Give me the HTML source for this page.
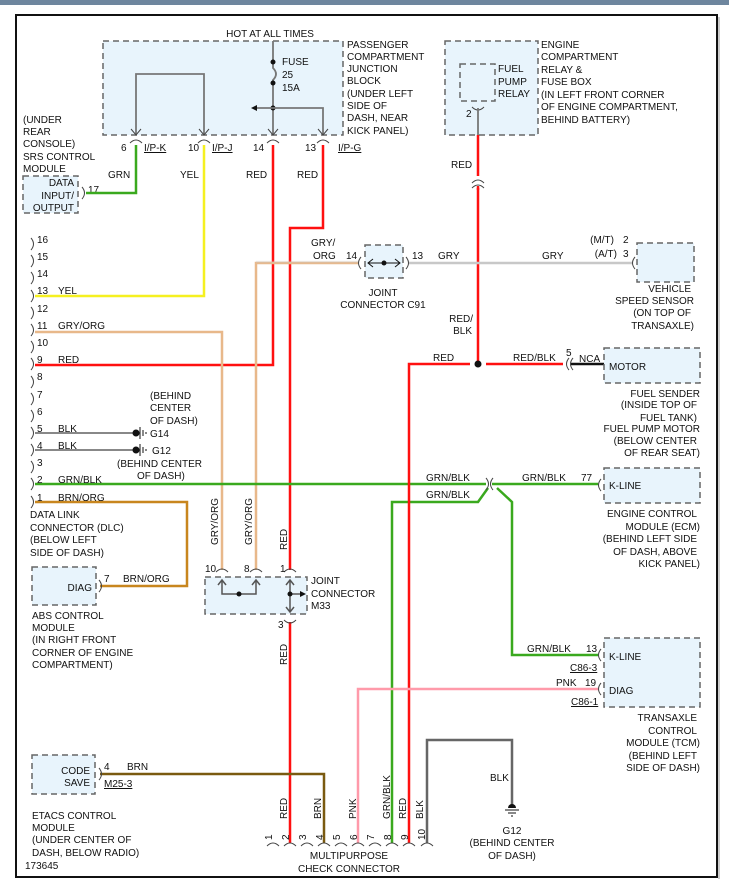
<!DOCTYPE html>
<html><head><meta charset="utf-8"><style>
html,body{margin:0;padding:0;background:#fff;}
svg{display:block;}
text{font-family:"Liberation Sans",Arial,sans-serif;font-size:10px;fill:#111;}
.r{text-anchor:end;}
.m{text-anchor:middle;}
.bx{fill:#e8f4fc;stroke:#666;stroke-width:1.5;stroke-dasharray:6,4;}
.w{fill:none;stroke-width:2.5;}
.g{fill:none;stroke:#777;stroke-width:1.8;}
.c{fill:none;stroke:#444;stroke-width:1;}
</style></head><body>
<svg width="729" height="887" viewBox="0 0 729 887" xmlns="http://www.w3.org/2000/svg">
<rect x="0" y="0" width="729" height="887" fill="#fff"/>
<rect x="0" y="0" width="729" height="5" fill="#6e869e"/>
<rect x="16" y="15" width="701" height="862" fill="#fff" stroke="#111" stroke-width="2"/>
<line x1="717" y1="16" x2="717" y2="878" stroke="#999" stroke-width="1" transform="translate(2,1)"/>

<!-- Passenger junction block -->
<rect class="bx" x="103" y="41" width="240" height="94"/>
<text class="m" x="270" y="37">HOT AT ALL TIMES</text>
<path class="g" d="M273 41 V68 Q279 74 273 80 V135"/>
<circle cx="273" cy="62" r="2.5" fill="#111"/><circle cx="273" cy="83" r="2.5" fill="#111"/>
<circle cx="273" cy="108" r="2.5" fill="#111"/>
<path class="g" d="M254 108 H323 V135"/>
<path d="M251 108 l6 -3 v6z" fill="#111"/>
<path class="g" d="M136 135 V74 H204 V135"/>
<g class="c"><path d="M131 129 l5 6 l5 -6 M199 129 l5 6 l5 -6 M268 129 l5 6 l5 -6 M318 129 l5 6 l5 -6"/></g>
<text x="282" y="65">FUSE</text><text x="282" y="78">25</text><text x="282" y="91">15A</text>
<g class="c"><path d="M130 143 q6 -6 12 0 M198 143 q6 -6 12 0 M267 143 q6 -6 12 0 M317 143 q6 -6 12 0"/></g>
<text x="121" y="151">6</text><text x="144" y="151" text-decoration="underline">I/P-K</text>
<text x="188" y="151">10</text><text x="212" y="151" text-decoration="underline">I/P-J</text>
<text x="253" y="151">14</text><text x="305" y="151">13</text><text x="338" y="151" text-decoration="underline">I/P-G</text>
<text x="347" y="48">PASSENGER</text><text x="347" y="60">COMPARTMENT</text><text x="347" y="72">JUNCTION</text><text x="347" y="84">BLOCK</text><text x="347" y="97">(UNDER LEFT</text><text x="347" y="109">SIDE OF</text><text x="347" y="121">DASH, NEAR</text><text x="347" y="134">KICK PANEL)</text>

<!-- SRS -->
<text x="23" y="123">(UNDER</text><text x="23" y="135">REAR</text><text x="23" y="147">CONSOLE)</text><text x="23" y="160">SRS CONTROL</text><text x="23" y="172">MODULE</text>
<rect class="bx" x="23" y="176" width="55" height="37"/>
<text class="r" x="74" y="186">DATA</text><text class="r" x="74" y="199">INPUT/</text><text class="r" x="74" y="211">OUTPUT</text>
<path class="c" d="M82 187 q5 6 0 12"/><text x="88" y="193">17</text>
<text x="108" y="178">GRN</text><text x="180" y="178">YEL</text><text x="246" y="178">RED</text><text x="297" y="178">RED</text>

<!-- Engine box -->
<rect class="bx" x="445" y="41" width="93" height="94"/>
<rect class="bx" x="460" y="64" width="35" height="37"/>
<text x="498" y="72">FUEL</text><text x="498" y="85">PUMP</text><text x="498" y="97">RELAY</text>
<path class="c" d="M472 107 q6 6 12 0"/><text x="466" y="117">2</text>
<line x1="478" y1="108" x2="478" y2="135" stroke="#777" stroke-width="1.8"/>
<text x="541" y="48">ENGINE</text><text x="541" y="60">COMPARTMENT</text><text x="541" y="73">RELAY &amp;</text><text x="541" y="85">FUSE BOX</text><text x="541" y="98">(IN LEFT FRONT CORNER</text><text x="541" y="110">OF ENGINE COMPARTMENT,</text><text x="541" y="123">BEHIND BATTERY)</text>
<text x="451" y="168">RED</text>

<!-- wires -->
<path class="w" stroke="#3aa91e" d="M136 145 V193 H86"/>
<path class="w" stroke="#f5f020" d="M204 145 V296 H35"/>
<path class="w" stroke="#ff1010" d="M273 145 V365 H35"/>
<path class="w" stroke="#ff1010" d="M323 145 V228 H290 V570"/>
<path class="w" stroke="#ff1010" d="M478 135 V364"/>
<path class="w" stroke="#e8b88a" d="M35 332 H222 V570"/>
<path class="w" stroke="#e8b88a" d="M256 570 V263 H358"/>
<path class="w" stroke="#c8c8c8" d="M409 263 H632"/>
<path class="w" stroke="#c8c8c8" d="M256 262 H358" opacity=".3"/>
<path class="g" d="M35 433 H133 M35 450 H133" stroke="#666" stroke-width="2.5"/>
<path class="w" stroke="#3aa91e" d="M35 484 H486 M492 484 H598"/>
<path class="w" stroke="#3aa91e" d="M392 843 V502 H478 L488 488"/>
<path class="w" stroke="#3aa91e" d="M497 488 L512 502 V655 H598"/>
<path class="w" stroke="#c8861e" d="M35 502 H187 V586 H100"/>
<path class="w" stroke="#ff1010" d="M290 622 V843"/>
<path class="w" stroke="#ff1010" d="M409 843 V364 H470 M486 364 H563"/>
<path d="M571 364 H604" stroke="#111" stroke-width="2.5"/>
<circle cx="478" cy="364" r="3.5" fill="#111"/>
<path class="w" stroke="#ff9aaa" d="M358 843 V689 H598"/>
<path class="w" stroke="#7a5a10" d="M100 774 H324 V843"/>
<path class="w" stroke="#666" d="M427 843 V740 H512 V805"/>

<!-- fuel pump red connector -->
<rect x="472" y="176" width="12" height="12" fill="#fff"/>
<path class="c" d="M472 183 q6 -6 12 0 M472 188 q6 -6 12 0"/>
<path class="w" stroke="#ff1010" d="M478 186 V190"/>

<!-- C91 -->
<rect class="bx" x="365" y="245" width="38" height="33"/>
<path class="c" d="M361 257 q-5 6 0 12 M406 257 q5 6 0 12"/>
<path d="M368 263 H400 M373 259 l-5 4 5 4 M395 259 l5 4 -5 4" fill="none" stroke="#111" stroke-width="1"/>
<circle cx="384" cy="263" r="2.5" fill="#111"/>
<text x="311" y="246">GRY/</text><text x="313" y="259">ORG</text><text x="346" y="259">14</text><text x="412" y="259">13</text><text x="438" y="259">GRY</text><text x="542" y="259">GRY</text>
<text class="m" x="383" y="296">JOINT</text><text class="m" x="383" y="308">CONNECTOR C91</text>
<text class="r" x="473" y="322">RED/</text><text class="r" x="472" y="334">BLK</text>

<!-- VSS -->
<rect class="bx" x="637" y="243" width="57" height="39"/>
<path class="c" d="M635 257 q-5 6 0 12"/>
<text class="r" x="614" y="243">(M/T)</text><text x="623" y="243">2</text>
<text class="r" x="617" y="257">(A/T)</text><text x="623" y="257">3</text>
<text class="r" x="691" y="292">VEHICLE</text><text class="r" x="694" y="304">SPEED SENSOR</text><text class="r" x="691" y="316">(ON TOP OF</text><text class="r" x="694" y="329">TRANSAXLE)</text>

<!-- Fuel sender -->
<rect class="bx" x="604" y="348" width="96" height="35"/>
<text x="609" y="370">MOTOR</text>
<path class="c" d="M569 358 q-5 6 0 12 M573 358 q-5 6 0 12"/>
<text x="433" y="361">RED</text><text x="513" y="361">RED/BLK</text><text x="566" y="356">5</text><text x="579" y="362">NCA</text>
<text class="r" x="700" y="397">FUEL SENDER</text><text class="r" x="697" y="408">(INSIDE TOP OF</text><text class="r" x="697" y="421">FUEL TANK)</text><text class="r" x="700" y="432">FUEL PUMP MOTOR</text><text class="r" x="697" y="444">(BELOW CENTER</text><text class="r" x="700" y="456">OF REAR SEAT)</text>

<!-- ECM -->
<rect class="bx" x="604" y="468" width="96" height="35"/>
<text x="609" y="489">K-LINE</text>
<path class="c" d="M601 479 q-5 6 0 12"/>
<path class="c" d="M486 478 q5 6 0 12 M493 478 q-5 6 0 12" stroke="#111"/>
<text x="426" y="481">GRN/BLK</text><text x="426" y="498">GRN/BLK</text><text x="522" y="481">GRN/BLK</text><text x="581" y="481">77</text>
<text class="r" x="697" y="517">ENGINE CONTROL</text><text class="r" x="700" y="530">MODULE (ECM)</text><text class="r" x="697" y="542">(BEHIND LEFT SIDE</text><text class="r" x="697" y="555">OF DASH, ABOVE</text><text class="r" x="700" y="567">KICK PANEL)</text>

<!-- TCM -->
<rect class="bx" x="604" y="638" width="96" height="69"/>
<text x="609" y="660">K-LINE</text><text x="609" y="694">DIAG</text>
<path class="c" d="M601 649 q-5 6 0 12 M601 683 q-5 6 0 12"/>
<text x="527" y="652">GRN/BLK</text><text x="586" y="652">13</text>
<text x="570" y="671" text-decoration="underline">C86-3</text>
<text x="556" y="686">PNK</text><text x="585" y="686">19</text>
<text x="571" y="705" text-decoration="underline">C86-1</text>
<text class="r" x="697" y="721">TRANSAXLE</text><text class="r" x="697" y="734">CONTROL</text><text class="r" x="700" y="746">MODULE (TCM)</text><text class="r" x="697" y="759">(BEHIND LEFT</text><text class="r" x="700" y="771">SIDE OF DASH)</text>

<!-- G12 ground bottom -->
<text x="490" y="781">BLK</text>
<path d="M508 808 a4 4 0 0 1 8 0z" fill="#111"/>
<path d="M505 810 H519 M508 813 H516 M511 816 H513" stroke="#111" stroke-width="1"/>
<text class="m" x="512" y="834">G12</text><text class="m" x="512" y="846">(BEHIND CENTER</text><text class="m" x="512" y="859">OF DASH)</text>

<!-- DLC -->
<g class="c">
<path d="M31 238 q5 6 0 12 M31 255 q5 6 0 12 M31 272 q5 6 0 12 M31 290 q5 6 0 12 M31 307 q5 6 0 12 M31 324 q5 6 0 12 M31 341 q5 6 0 12 M31 358 q5 6 0 12 M31 376 q5 6 0 12 M31 393 q5 6 0 12 M31 410 q5 6 0 12 M31 427 q5 6 0 12 M31 444 q5 6 0 12 M31 461 q5 6 0 12 M31 478 q5 6 0 12 M31 496 q5 6 0 12"/>
</g>
<text x="37" y="243">16</text><text x="37" y="260">15</text><text x="37" y="277">14</text><text x="37" y="294">13</text><text x="37" y="312">12</text><text x="37" y="329">11</text><text x="37" y="346">10</text><text x="37" y="363">9</text><text x="37" y="380">8</text><text x="37" y="398">7</text><text x="37" y="415">6</text><text x="37" y="432">5</text><text x="37" y="449">4</text><text x="37" y="466">3</text><text x="37" y="483">2</text><text x="37" y="501">1</text>
<text x="58" y="294">YEL</text><text x="58" y="329">GRY/ORG</text><text x="58" y="363">RED</text><text x="58" y="432">BLK</text><text x="58" y="449">BLK</text><text x="58" y="483">GRN/BLK</text><text x="58" y="501">BRN/ORG</text>
<text x="30" y="518">DATA LINK</text><text x="30" y="531">CONNECTOR (DLC)</text><text x="30" y="543">(BELOW LEFT</text><text x="30" y="556">SIDE OF DASH)</text>
<!-- G14/G12 -->
<circle cx="136" cy="433" r="3.5" fill="#111"/><circle cx="136" cy="450" r="3.5" fill="#111"/>
<path d="M140 427 V439 M143 430 V436 M146 432 V434 M140 444 V456 M143 447 V453 M146 449 V451" stroke="#111" stroke-width="1"/>
<text x="150" y="399">(BEHIND</text><text x="150" y="411">CENTER</text><text x="150" y="424">OF DASH)</text>
<text x="150" y="437">G14</text><text x="152" y="454">G12</text>
<text x="117" y="467">(BEHIND CENTER</text><text x="137" y="479">OF DASH)</text>

<!-- ABS -->
<rect class="bx" x="32" y="567" width="64" height="38"/>
<text class="r" x="92" y="591">DIAG</text>
<path class="c" d="M99 580 q5 6 0 12"/>
<text x="104" y="582">7</text><text x="123" y="582">BRN/ORG</text>
<text x="32" y="619">ABS CONTROL</text><text x="32" y="631">MODULE</text><text x="32" y="643">(IN RIGHT FRONT</text><text x="32" y="656">CORNER OF ENGINE</text><text x="32" y="668">COMPARTMENT)</text>

<!-- vertical labels -->
<text transform="translate(218,545) rotate(-90)">GRY/ORG</text>
<text transform="translate(252,545) rotate(-90)">GRY/ORG</text>
<text transform="translate(287,550) rotate(-90)">RED</text>
<text transform="translate(287,665) rotate(-90)">RED</text>

<!-- M33 -->
<rect class="bx" x="205" y="577" width="102" height="37"/>
<g class="c"><path d="M216 572 q6 -6 12 0 M250 572 q6 -6 12 0 M284 572 q6 -6 12 0 M284 620 q6 6 12 0"/></g>
<path d="M222 580 V594 H256 V580 M218 585 l4 -5 4 5 M252 585 l4 -5 4 5 M290 580 V612 M286 585 l4 -5 4 5 M286 607 l4 5 4 -5 M290 594 H301" fill="none" stroke="#555" stroke-width="1.5"/>
<path d="M306 594 l-6 -3 v6z" fill="#111"/>
<circle cx="239" cy="594" r="2.5" fill="#111"/><circle cx="290" cy="594" r="2.5" fill="#111"/>
<text x="205" y="572">10</text><text x="244" y="572">8</text><text x="280" y="572">1</text><text x="278" y="628">3</text>
<text x="311" y="584">JOINT</text><text x="311" y="597">CONNECTOR</text><text x="311" y="609">M33</text>

<!-- ETACS -->
<rect class="bx" x="32" y="755" width="63" height="39"/>
<text class="r" x="90" y="774">CODE</text><text class="r" x="90" y="786">SAVE</text>
<path class="c" d="M99 768 q5 6 0 12"/>
<text x="104" y="770">4</text><text x="127" y="770">BRN</text>
<text x="104" y="787" text-decoration="underline">M25-3</text>
<text x="32" y="819">ETACS CONTROL</text><text x="32" y="831">MODULE</text><text x="32" y="843">(UNDER CENTER OF</text><text x="32" y="856">DASH, BELOW RADIO)</text>
<text x="25" y="869">173645</text>

<!-- Multipurpose connector -->
<g class="c"><path d="M267 846 q6 -6 12 0 M284 846 q6 -6 12 0 M301 846 q6 -6 12 0 M318 846 q6 -6 12 0 M335 846 q6 -6 12 0 M352 846 q6 -6 12 0 M369 846 q6 -6 12 0 M386 846 q6 -6 12 0 M403 846 q6 -6 12 0 M421 846 q6 -6 12 0"/></g>
<text transform="translate(272,840) rotate(-90)">1</text><text transform="translate(289,840) rotate(-90)">2</text><text transform="translate(306,840) rotate(-90)">3</text><text transform="translate(323,840) rotate(-90)">4</text><text transform="translate(340,840) rotate(-90)">5</text><text transform="translate(357,840) rotate(-90)">6</text><text transform="translate(374,840) rotate(-90)">7</text><text transform="translate(391,840) rotate(-90)">8</text><text transform="translate(408,840) rotate(-90)">9</text><text transform="translate(425,840) rotate(-90)">10</text>
<text transform="translate(287,819) rotate(-90)">RED</text>
<text transform="translate(321,819) rotate(-90)">BRN</text>
<text transform="translate(356,819) rotate(-90)">PNK</text>
<text transform="translate(390,819) rotate(-90)">GRN/BLK</text>
<text transform="translate(406,819) rotate(-90)">RED</text>
<text transform="translate(423,819) rotate(-90)">BLK</text>
<text class="m" x="349" y="859">MULTIPURPOSE</text>
<text class="m" x="349" y="872">CHECK CONNECTOR</text>
</svg>
</body></html>
